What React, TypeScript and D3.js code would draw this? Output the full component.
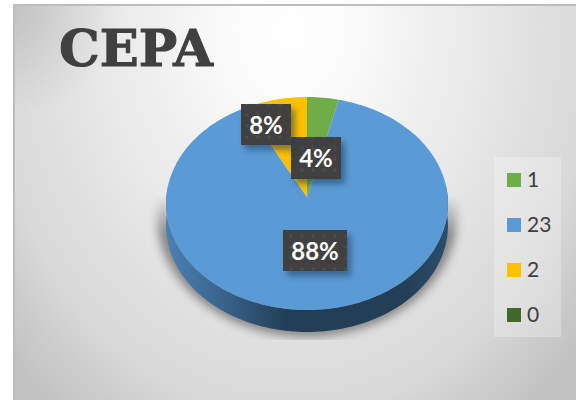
import React from 'react';
import * as d3 from 'd3';

const categories = ['1', '23', '2', '0'];
const values = [1, 23, 2, 0];
const labels = ['4%', '88%', '8%', ''];
const colors = ['#70ad47', '#5b9bd5', '#ffc000', '#43682b'];

// tilted pie: apex sits above the middle of the ellipse
const cx = 307;
const cy = 197;
const radius = 140.7;
const persp = -0.061;
const scaleY = 106.1;
const depth = 22;

const project = (angle: number, r = 1): [number, number] => {
  const u = Math.sin(angle) * r;
  const v = -Math.cos(angle) * r;
  const k = 1 + persp * v;
  return [cx + (radius * u) / k, cy + (scaleY * v) / k];
};

const line = d3.line();

const slicePath = (a0: number, a1: number) => {
  const steps = Math.max(2, Math.ceil((a1 - a0) * 40));
  const pts: [number, number][] = [[cx, cy]];
  d3.range(steps + 1).forEach(i => pts.push(project(a0 + ((a1 - a0) * i) / steps)));
  return line(pts) + 'Z';
};

// outer wall of the pie, front half only
const wallPath = () => {
  const top: [number, number][] = d3.range(121).map(i => project(Math.PI / 2 - 0.1 + ((Math.PI + 0.2) * i) / 120));
  const bottom = top.map(([x, y]) => [x, y + depth] as [number, number]).reverse();
  return line([...top, ...bottom]) + 'Z';
};

const pie = d3.pie<number>().sort(null).value(d => d);

// label boxes, in slice order
const labelBoxes = [
  { x: 291, y: 137, w: 50, h: 42 },
  { x: 283, y: 230, w: 64, h: 41 },
  { x: 241, y: 104, w: 50, h: 41 },
];

const legendY = d3.scalePoint<string>().domain(categories).range([180, 315]);

export default function App() {
  const arcs = pie(values);
  return (
    <svg width={576} height={400} style={{ position: 'absolute', left: 0, top: 0 }}>
      <defs>
        <radialGradient
          id="bg"
          gradientUnits="userSpaceOnUse"
          cx={0}
          cy={0}
          r={1}
          gradientTransform="translate(290 30) scale(380 480)"
        >
          <stop offset="0" stopColor="#ffffff" />
          <stop offset="0.15" stopColor="#fbfbfb" />
          <stop offset="0.8" stopColor="#d8d8d8" />
          <stop offset="1" stopColor="#c2c2c2" />
        </radialGradient>
        <radialGradient id="corner" gradientUnits="userSpaceOnUse" cx={14} cy={5} r={110}>
          <stop offset="0" stopColor="#000000" stopOpacity={0.12} />
          <stop offset="1" stopColor="#000000" stopOpacity={0} />
        </radialGradient>
        <linearGradient id="wall" gradientUnits="userSpaceOnUse" x1={168} x2={448} y1={0} y2={0}>
          <stop offset="0" stopColor="#4b80b2" />
          <stop offset="0.2" stopColor="#38638a" />
          <stop offset="0.42" stopColor="#233f57" />
          <stop offset="0.85" stopColor="#233f57" />
          <stop offset="1" stopColor="#2b4d6b" />
        </linearGradient>
        <linearGradient id="shadowFade" gradientUnits="userSpaceOnUse" x1={0} x2={0} y1={195} y2={235}>
          <stop offset="0" stopColor="#000000" />
          <stop offset="1" stopColor="#ffffff" />
        </linearGradient>
        <mask id="shadowMask" maskUnits="userSpaceOnUse" x={140} y={190} width={330} height={150}>
          <rect x={140} y={190} width={330} height={150} fill="url(#shadowFade)" />
        </mask>
        <pattern id="dots" width={11} height={11} patternUnits="userSpaceOnUse">
          <rect width={11} height={11} fill="#404040" />
          <circle cx={5} cy={5} r={1.8} fill="#4b4b4b" />
        </pattern>
        <filter id="blur" x="-20%" y="-20%" width="140%" height="140%">
          <feGaussianBlur stdDeviation="5" />
        </filter>
        <filter id="boxShadow" x="-30%" y="-30%" width="170%" height="170%">
          <feGaussianBlur stdDeviation="3" />
        </filter>
      </defs>

      <rect x={14} y={5} width={564} height={397} fill="url(#bg)" stroke="#bdbdbd" strokeWidth={2} />
      <rect x={15} y={6} width={110} height={110} fill="url(#corner)" />

      <text x={59} y={66} fontFamily="DejaVu Serif" fontWeight="bold" fontSize={50} fill="#404040" stroke="#404040" strokeWidth={1} textLength={154} lengthAdjust="spacingAndGlyphs">
        CEPA
      </text>

      <g mask="url(#shadowMask)">
        <ellipse cx={cx} cy={217} rx={150} ry={120} fill="#6f6f6f" opacity={0.8} filter="url(#blur)" />
      </g>

      <path d={wallPath()} fill="url(#wall)" />

      {arcs.map((a, i) => (
        <path key={i} d={slicePath(a.startAngle, a.endAngle)} fill={colors[i]} />
      ))}

      {labelBoxes.map((b, i) => (
        <g key={i}>
          <rect x={b.x + 4} y={b.y + 5} width={b.w} height={b.h} fill="#1d3b58" opacity={0.55} filter="url(#boxShadow)" />
          <rect x={b.x} y={b.y} width={b.w} height={b.h} fill="url(#dots)" />
          <text x={b.x + b.w / 2} y={b.y + b.h / 2 + 9} textAnchor="middle" fontFamily="Lato" fontWeight="bold" fontSize={24} fill="#ffffff">
            {labels[i]}
          </text>
        </g>
      ))}

      <rect x={494} y={157} width={67} height={180} fill="#ffffff" opacity={0.25} />
      {categories.map((c, i) => (
        <g key={c}>
          <rect x={507} y={(legendY(c) as number) - 7} width={14} height={14} fill={colors[i]} />
          <text x={527} y={(legendY(c) as number) + 7} fontFamily="Lato" fontSize={21} fill="#404040">
            {c}
          </text>
        </g>
      ))}
    </svg>
  );
}
